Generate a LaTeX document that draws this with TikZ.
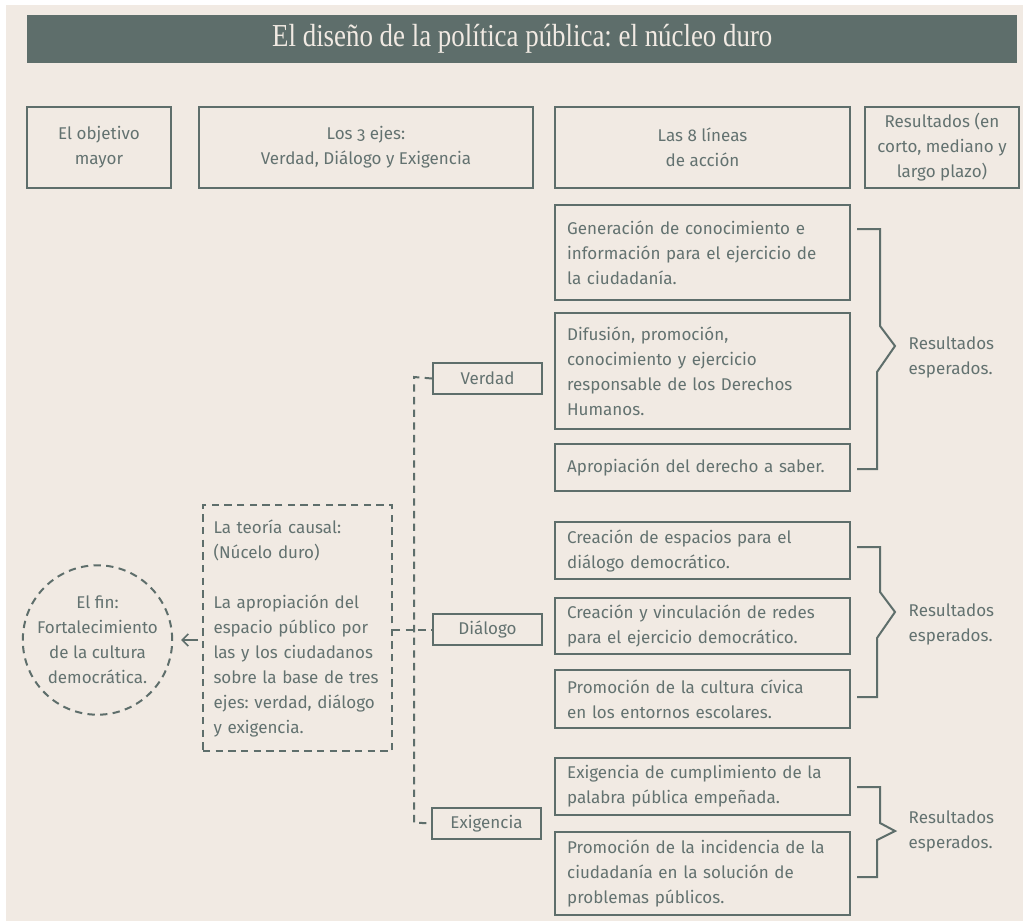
\documentclass[tikz,border=0pt]{standalone}
\usepackage{fontspec}
\usepackage{graphicx}
\setmainfont{Fira Sans}[Numbers=OldStyle]
\newfontfamily\titlefont{Liberation Serif}
\usetikzlibrary{arrows.meta,calc}
\definecolor{bg}{HTML}{F1EAE3}
\definecolor{slate}{HTML}{5E6E6B}
\definecolor{txt}{HTML}{637270}
\frenchspacing
\begin{document}
\begin{tikzpicture}[x=0.75pt,y=-0.75pt,
  every node/.style={text=txt, font=\fontsize{12.75pt}{18.75pt}\selectfont},
  hbox/.style={draw=slate, line width=1.5pt, minimum width=#1*0.75pt, minimum height=81*0.75pt, inner sep=0pt, align=center, anchor=north west},
  lbox/.style={draw=slate, line width=1.5pt, minimum width=295*0.75pt, minimum height=#1*0.75pt, inner xsep=9pt, inner ysep=0pt, text width=203pt, align=left, anchor=north west},
  abox/.style={draw=slate, line width=1.5pt, minimum width=109*0.75pt, minimum height=31*0.75pt, inner sep=0pt, anchor=north west},
  dsh/.style={draw=slate, line width=1.5pt, dash pattern=on 5.5pt off 4pt},
  brace/.style={draw=slate, line width=1.5pt},
  arr/.style={draw=slate, line width=1.2pt, -{Straight Barb[length=4.5pt,width=9pt]}},
  restxt/.style={align=left, anchor=west}
]
\useasboundingbox (0,0) rectangle (1023,921);
\fill[white] (0,0) rectangle (1023,921);
\fill[bg] (6,5) rectangle (1023,921);
% title
\node[fill=slate, minimum width=990*0.75pt, minimum height=48*0.75pt, inner sep=0pt, anchor=north west, text=bg] (title) at (27,15)
  {\titlefont\fontsize{24pt}{26pt}\selectfont\scalebox{0.84}[1]{El diseño de la política pública: el núcleo duro}};
% header boxes
\node[hbox=144] (hA) at (26,106) {El objetivo\\mayor};
\node[hbox=334] (hB) at (198,106) {Los 3 ejes:\\Verdad, Diálogo y Exigencia};
\node[hbox=295] (hC) at (554,106) {Las 8 líneas\\de acción};
\node[hbox=154] (hD) at (864,106) {Resultados (en\\corto, mediano y\\largo plazo)};
% line boxes
\node[lbox=95] (l1) at (554,204) {Generación de conocimiento e\\información para el ejercicio de\\la ciudadanía.};
\node[lbox=116] (l2) at (554,312) {Difusión, promoción,\\conocimiento y ejercicio\\responsable de los Derechos\\Humanos.};
\node[lbox=47] (l3) at (554,443) {Apropiación del derecho a saber.};
\node[lbox=57] (l4) at (554,521) {Creación de espacios para el\\diálogo democrático.};
\node[lbox=56] (l5) at (554,597) {Creación y vinculación de redes\\para el ejercicio democrático.};
\node[lbox=58] (l6) at (554,669) {Promoción de la cultura cívica\\en los entornos escolares.};
\node[lbox=57] (l7) at (554,757) {Exigencia de cumplimiento de la\\palabra pública empeñada.};
\node[lbox=83] (l8) at (554,831) {Promoción de la incidencia de la\\ciudadanía en la solución de\\problemas públicos.};
% axis boxes
\node[abox] (verdad) at (432,362) {Verdad};
\node[abox] (dialogo) at (432,613) {Diálogo};
\node[abox] (exig) at (431,807) {Exigencia};
% causal theory
\node[dsh, minimum width=189*0.75pt, minimum height=246*0.75pt, inner xsep=7.5pt, inner ysep=0pt, text width=126pt, align=left, anchor=north west] (causal) at (202,504)
  {La teoría causal:\\(Núcelo duro)\\[18.75pt]La apropiación del\\espacio público por\\las y los ciudadanos\\sobre la base de tres\\ejes: verdad, diálogo\\y exigencia.};
% the end
\node[dsh, circle, minimum size=144*0.75pt, inner sep=0pt, align=center] (fin) at (97.5,640)
  {El fin:\\Fortalecimiento\\de la cultura\\democrática.};
% connectors
\draw[dsh] (verdad.west) -- (414,377) -- (414,822.5) -- (exig.west);
\draw[dsh] (causal.east |- dialogo.west) -- (dialogo.west);
\draw[arr, shorten <=3pt, shorten >=6pt] (causal.west |- fin.east) -- (fin.east);
% braces
\draw[brace] (857,229) -- (880,229) -- (880,326) -- (895,346) -- (877,372) -- (877,469) -- (857,469);
\draw[brace] (857,547) -- (880,547) -- (880,592) -- (895,612) -- (877,638) -- (877,697) -- (857,697);
\draw[brace] (857,787) -- (880,787) -- (880,823) -- (895,831) -- (877,840) -- (877,877) -- (857,877);
\node[restxt] (r1) at (904,357) {Resultados\\esperados.};
\node[restxt] (r2) at (904,624) {Resultados\\esperados.};
\node[restxt] (r3) at (904,831) {Resultados\\esperados.};
\end{tikzpicture}
\end{document}
